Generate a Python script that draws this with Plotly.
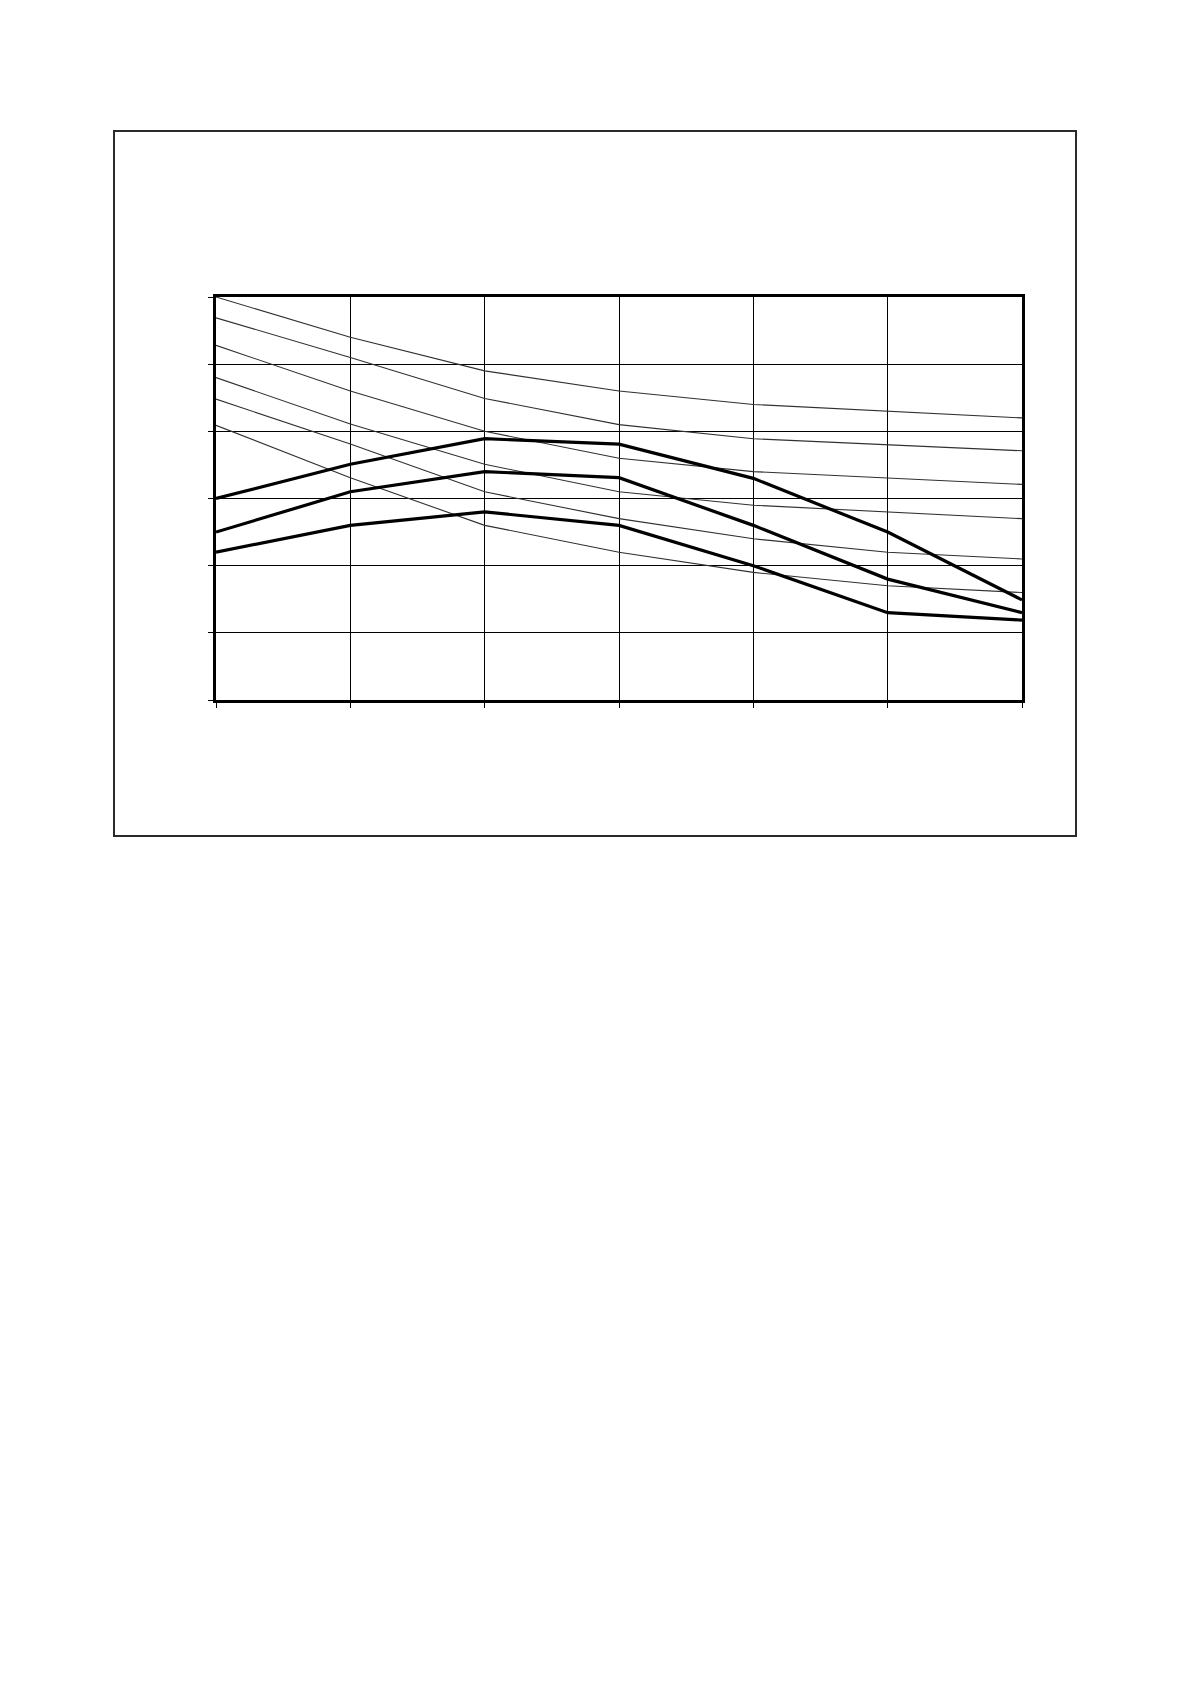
import plotly.graph_objects as go

# category positions along the x axis (no labels shown in the reference)
x_points = [0, 1, 2, 3, 4, 5, 6]

# thin curves, top to bottom
thin_1 = [6.00, 5.40, 4.90, 4.60, 4.40, 4.30, 4.20]
thin_2 = [5.69, 5.10, 4.49, 4.10, 3.89, 3.80, 3.71]
thin_3 = [5.28, 4.60, 4.00, 3.60, 3.40, 3.30, 3.21]
thin_4 = [4.80, 4.11, 3.51, 3.10, 2.90, 2.80, 2.70]
thin_5 = [4.48, 3.81, 3.10, 2.70, 2.40, 2.20, 2.10]
thin_6 = [4.09, 3.31, 2.60, 2.20, 1.90, 1.70, 1.60]

# thick curves, top to bottom
thick_1 = [3.00, 3.51, 3.89, 3.81, 3.30, 2.50, 1.49]
thick_2 = [2.50, 3.10, 3.40, 3.31, 2.60, 1.80, 1.30]
thick_3 = [2.20, 2.60, 2.80, 2.60, 2.00, 1.30, 1.19]

y_ticks = [0, 1, 2, 3, 4, 5, 6]

W, H = 1190, 1684
L, R, T, B = 216, 1022, 297, 700
PAD = 8  # default body margin of the html page

fig = go.Figure()

for ys in [thin_1, thin_2, thin_3, thin_4, thin_5, thin_6]:
    fig.add_trace(go.Scatter(x=x_points, y=ys, mode='lines',
                             line=dict(color='#303030', width=1.1),
                             showlegend=False, hoverinfo='skip'))

for ys in [thick_1, thick_2, thick_3]:
    fig.add_trace(go.Scatter(x=x_points, y=ys, mode='lines',
                             line=dict(color='#000000', width=3.2),
                             showlegend=False, hoverinfo='skip'))

axis_style = dict(showgrid=True, gridcolor='#000000', gridwidth=1.2,
                  showline=True, linecolor='#000000', linewidth=2.8, mirror=True,
                  ticks='outside', ticklen=5, tickcolor='#000000', tickwidth=1.2,
                  showticklabels=False, zeroline=False)

fig.update_xaxes(range=[0, 6], tickvals=x_points, **axis_style)
fig.update_yaxes(range=[0, 6], tickvals=y_ticks, **axis_style)

# outer chart frame
fig.add_shape(type='rect', xref='paper', yref='paper',
              x0=(114 - L) / (R - L), x1=(1076 - L) / (R - L),
              y0=(B - 836) / (B - T), y1=(B - 131) / (B - T),
              line=dict(color='#2a2a2a', width=2), layer='below')

fig.update_layout(
    width=W - PAD, height=H - PAD,
    margin=dict(l=L - PAD, r=W - R, t=T - PAD, b=H - B),
    paper_bgcolor='white', plot_bgcolor='white',
    showlegend=False,
)

fig.write_html("out.html")
